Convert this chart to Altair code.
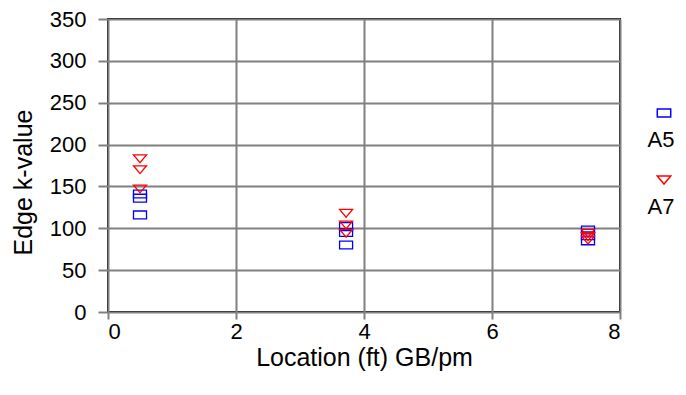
import altair as alt
import pandas as pd

series_names = ["A5", "A7"]
x_a5 = [0.5, 0.5, 0.5, 3.72, 3.72, 3.72, 7.5, 7.5, 7.5]
y_a5 = [141, 136, 116, 102, 95, 80, 98, 91, 85]
x_a7 = [0.5, 0.5, 0.5, 3.72, 3.72, 3.72, 7.5, 7.5, 7.5]
y_a7 = [183, 170, 147, 118, 104, 94, 94, 90, 86]
colors = ["#0000FF", "#FF0000"]
x_ticks = [0, 2, 4, 6, 8]
y_ticks = [0, 50, 100, 150, 200, 250, 300, 350]

RECT = "M-1,-0.6 L1,-0.6 L1,0.6 L-1,0.6 Z"
TRI = "M-1,-0.6 L1,-0.6 L0,0.6 Z"
shapes = [RECT, TRI]

df = pd.concat([
    pd.DataFrame({"x": x_a5, "y": y_a5, "s": series_names[0]}),
    pd.DataFrame({"x": x_a7, "y": y_a7, "s": series_names[1]}),
])

FONT = "Liberation Sans"
FS = 22
TFS = 25

base = alt.Chart(df)
layers = []
for name, col, shp in zip(series_names, colors, shapes):
    layers.append(
        base.transform_filter(alt.datum.s == name).mark_point(
            shape=shp, filled=False, color=col, size=169, strokeWidth=1.3, opacity=1
        ).encode(
            x=alt.X("x:Q", scale=alt.Scale(domain=[0, 8], nice=False),
                    axis=alt.Axis(values=x_ticks, title="Location (ft) GB/pm",
                                  titleY=45, titleBaseline="middle")),
            y=alt.Y("y:Q", scale=alt.Scale(domain=[0, 350], nice=False),
                    axis=alt.Axis(values=y_ticks, title="Edge k-value",
                                  titleX=-85, titleY=163, titleBaseline="middle")),
        )
    )

leg_df = pd.DataFrame({"s": series_names, "i": [0, 1]})
leg_base = alt.Chart(leg_df)
for i, (name, col, shp) in enumerate(zip(series_names, colors, shapes)):
    layers.append(
        leg_base.transform_filter(alt.datum.s == name).mark_point(
            shape=shp, filled=False, color=col, size=180, strokeWidth=1.5, opacity=1
        ).encode(x=alt.value(556), y=alt.value(94 + 67 * i))
    )
    layers.append(
        leg_base.transform_filter(alt.datum.s == name).mark_text(
            font=FONT, fontSize=FS, color="black", align="center", baseline="middle"
        ).encode(x=alt.value(553), y=alt.value(121 + 67 * i), text="s:N")
    )

chart = alt.layer(*layers).properties(
    width=512, height=293,
    autosize=alt.AutoSizeParams(type="none"),
    padding={"left": 100, "top": 11, "right": 58, "bottom": 75},
).configure_view(
    stroke="black", strokeWidth=2
).configure_axis(
    grid=True, gridColor="#808080", gridWidth=2, gridOpacity=1,
    domain=False, tickColor="#808080", tickWidth=2,
    labelFont=FONT, labelFontSize=FS, labelColor="black",
    titleFont=FONT, titleFontSize=TFS, titleFontWeight="normal", titleColor="black",
).configure_axisX(
    tickSize=7, labelPadding=2
).configure_axisY(
    tickSize=10, labelPadding=12
)

chart.save("out.html", embed_options={"renderer": "svg", "actions": False})
